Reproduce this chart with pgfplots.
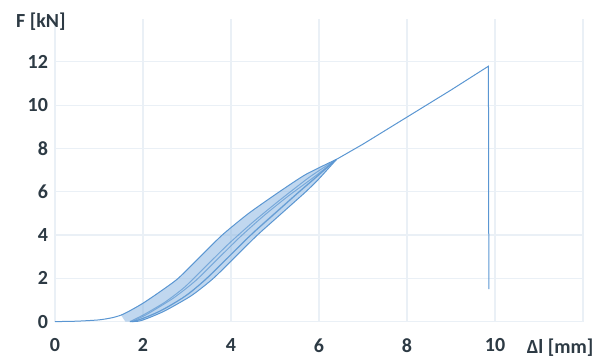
\documentclass[border=0pt]{standalone}
\usepackage{pgfplots}
\pgfplotsset{compat=1.18}
\usepackage{fontspec}
\setmainfont{Carlito}
\definecolor{lineblue}{RGB}{90,150,210}
\definecolor{bandblue}{RGB}{140,182,225}
\definecolor{gridc}{RGB}{234,240,246}
\definecolor{txt}{RGB}{45,58,68}
\begin{document}
\begin{tikzpicture}
\begin{axis}[
  scale only axis, width=264pt, height=151.5pt,
  xmin=0, xmax=12, ymin=0, ymax=14,
  xtick={0,2,...,12}, xticklabels={0,2,4,6,8,10,},
  ytick={0,2,...,12},
  grid=major, major grid style={gridc, line width=0.6pt},
  axis line style={draw=none}, tick style={draw=none},
  ticklabel style={font=\fontsize{10}{12}\selectfont\bfseries, text=txt},
  xticklabel style={yshift=-5pt},
  /pgf/number format/assume math mode=true,
  clip=false,
]
% band fill
\addplot[fill=bandblue, fill opacity=0.55, draw=none] coordinates {
 (1.5,0.3)(1.7,0.5)(2.0,0.85)(2.4,1.4)(2.8,2.0)(3.3,3.0)(3.8,4.0)(4.4,5.0)(5.1,6.0)(5.7,6.8)(6.4,7.5)
 (6.0,6.6)(5.7,6.0)(5.15,5.0)(4.6,4.0)(4.1,3.0)(3.6,2.0)(3.1,1.2)(2.5,0.5)(2.1,0.15)(1.9,0.02)(1.6,0)};
% initial loading + outer loop
\addplot[lineblue, line width=0.5pt, smooth, tension=0.4] coordinates {
 (0,0)(0.5,0.02)(1.0,0.08)(1.3,0.18)(1.5,0.3)(1.7,0.5)(2.0,0.85)(2.4,1.4)(2.8,2.0)(3.3,3.0)(3.8,4.0)(4.4,5.0)(5.1,6.0)(5.7,6.8)(6.4,7.5)};
\addplot[lineblue, line width=0.5pt, smooth, tension=0.4] coordinates {
 (6.4,7.5)(6.0,6.6)(5.7,6.0)(5.15,5.0)(4.6,4.0)(4.1,3.0)(3.6,2.0)(3.1,1.2)(2.5,0.5)(2.1,0.15)(1.9,0.02)(1.7,0)};
% loop 2
\addplot[lineblue, line width=0.5pt, opacity=0.7, smooth, tension=0.4] coordinates {
 (1.7,0)(2.0,0.3)(2.5,0.9)(2.95,1.6)(3.45,2.6)(3.95,3.6)(4.5,4.6)(5.1,5.6)(5.8,6.7)(6.4,7.5)};
\addplot[lineblue, line width=0.5pt, opacity=0.7, smooth, tension=0.4] coordinates {
 (6.4,7.5)(5.9,6.6)(5.5,5.9)(4.95,4.9)(4.4,3.9)(3.9,2.9)(3.4,1.9)(2.9,1.1)(2.3,0.4)(1.8,0)};
% loop 3
\addplot[lineblue, line width=0.5pt, opacity=0.7, smooth, tension=0.4] coordinates {
 (1.75,0)(2.1,0.35)(2.7,1.1)(3.2,1.9)(3.7,2.9)(4.2,3.9)(4.75,4.9)(5.3,5.8)(5.9,6.7)(6.4,7.5)};
\addplot[lineblue, line width=0.5pt, opacity=0.7, smooth, tension=0.4] coordinates {
 (6.4,7.5)(6.0,6.8)(5.6,6.1)(5.1,5.2)(4.55,4.2)(4.05,3.2)(3.55,2.2)(3.05,1.3)(2.5,0.6)(2.0,0.15)(1.75,0)};
% final loading and failure
\addplot[lineblue, line width=0.5pt] coordinates {
 (6.4,7.5)(7.0,8.2)(8.0,9.45)(9.0,10.7)(9.85,11.8)(9.86,1.5)};
\node[font=\fontsize{10}{12}\selectfont\bfseries, text=txt] at (axis cs:-0.32,13.85) {F [kN]};
\node[font=\fontsize{10}{12}\selectfont\bfseries, text=txt] at (axis cs:11.48,-1.2) {Δl [mm]};
\coordinate (bl) at (axis cs:-1.25,-1.754);
\coordinate (tr) at (axis cs:12.386,14.86);
\end{axis}
\pgfresetboundingbox
\path[use as bounding box] (bl) rectangle (tr);
\end{tikzpicture}
\end{document}
